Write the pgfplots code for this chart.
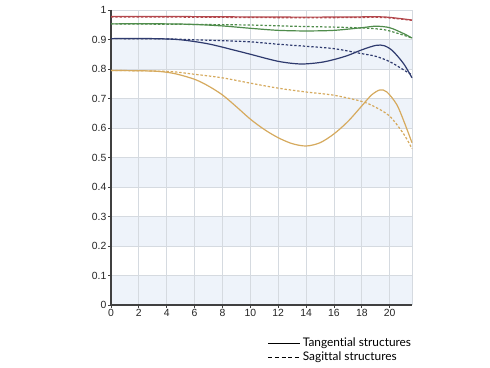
\documentclass[border=0pt]{standalone}
\usepackage{pgfplots}
\pgfplotsset{compat=1.18}
\usepackage{fontspec}
\setmainfont{Liberation Sans}
\newfontfamily\legfont{Lato}[Ligatures=NoCommon]
\definecolor{band}{HTML}{EEF3FA}
\definecolor{gridc}{HTML}{D5DAE0}
\definecolor{cred}{HTML}{B3474C}
\definecolor{cgreen}{HTML}{4F8C4B}
\definecolor{cblue}{HTML}{2E3A6E}
\definecolor{corange}{HTML}{D6AA5E}
\begin{document}
\begin{tikzpicture}
\path[fill=white] (0,0) rectangle (367.5pt,276pt);
\begin{axis}[
  at={(83.25pt,47.25pt)}, anchor=south west,
  scale only axis, width=225.75pt, height=221.25pt,
  xmin=0, xmax=21.6, ymin=0, ymax=1,
  xtick={0,2,...,20}, ytick={0,0.1,...,1.0},
  yticklabels={0,0.1,0.2,0.3,0.4,0.5,0.6,0.7,0.8,0.9,1},
  axis line style={draw=none},
  tick style={draw=none},
  tick label style={font=\fontsize{7.8}{9}\selectfont, text=black!85},
  /pgf/number format/assume math mode=true,
  clip=false,
  legend style={at={(0.52,-0.104)}, anchor=north west, draw=none, fill=none,
    font=\legfont\fontsize{8.9}{10.5}\selectfont, row sep=-0.5pt, inner sep=0pt,
    nodes={inner sep=1.5pt}},
  legend image code/.code={\draw[#1] (0pt,0pt) -- (24pt,0pt);},
  legend cell align=left,
]
\pgfplotsinvokeforeach{0,0.2,0.4,0.6,0.8}{
  \fill[band] (axis cs:0,#1) rectangle (axis cs:21.6,#1+0.1);
}
\pgfplotsinvokeforeach{0.1,0.2,...,1.0}{
  \draw[gridc, line width=0.6pt] (axis cs:0,#1) -- (axis cs:21.6,#1);
}
\pgfplotsinvokeforeach{2,4,...,20}{
  \draw[gridc, line width=0.6pt] (axis cs:#1,0) -- (axis cs:#1,1);
}
\draw[gridc, line width=0.6pt] (axis cs:21.6,0) -- (axis cs:21.6,1);
\draw[black!75, line width=0.8pt] (axis cs:0,1) -- (axis cs:0,0) -- (axis cs:21.6,0);
\pgfplotsinvokeforeach{0,2,...,20}{
  \draw[black!75, line width=0.6pt] (axis cs:#1,0) -- ++(0pt,-2.2pt);
}
\pgfplotsinvokeforeach{0,0.1,...,1.0}{
  \draw[black!75, line width=0.6pt] (axis cs:0,#1) -- ++(-2.2pt,0pt);
}
\addlegendimage{black, line width=0.8pt}
\addlegendentry{Tangential structures}
\addlegendimage{black, line width=0.8pt, dash pattern=on 3pt off 2pt}
\addlegendentry{Sagittal structures}
% red
\addplot[cred, line width=0.9pt, smooth, forget plot] coordinates {(0,0.978)(4,0.978)(8,0.977)(12,0.976)(16,0.976)(19,0.977)(20,0.975)(21.6,0.966)};
\addplot[cred, line width=0.9pt, smooth, forget plot, dash pattern=on 1.8pt off 1.4pt] coordinates {(0,0.976)(4,0.976)(8,0.975)(12,0.974)(16,0.974)(19,0.975)(20,0.973)(21.6,0.965)};
% green
\addplot[cgreen, line width=0.9pt, smooth, forget plot] coordinates {(0,0.953)(4,0.953)(6,0.951)(8,0.946)(10,0.938)(12,0.931)(14,0.929)(16,0.931)(18,0.940)(19,0.945)(20,0.940)(21,0.920)(21.6,0.905)};
\addplot[cgreen, line width=0.9pt, smooth, forget plot, dash pattern=on 1.8pt off 1.4pt] coordinates {(0,0.953)(6,0.951)(10,0.949)(13,0.945)(16,0.942)(18,0.939)(19.5,0.934)(20.5,0.922)(21.6,0.905)};
% blue
\addplot[cblue, line width=0.9pt, smooth, forget plot] coordinates {(0,0.903)(3,0.903)(5,0.899)(7,0.885)(9,0.862)(10,0.850)(12,0.826)(13.6,0.817)(15,0.822)(16,0.832)(17,0.846)(18,0.865)(19,0.880)(19.6,0.879)(20.2,0.862)(21,0.818)(21.6,0.77)};
\addplot[cblue, line width=0.9pt, smooth, forget plot, dash pattern=on 1.8pt off 1.4pt] coordinates {(0,0.903)(4,0.902)(6,0.899)(8,0.896)(10,0.892)(12,0.884)(14,0.877)(16,0.869)(18,0.852)(19,0.843)(20,0.825)(21,0.797)(21.6,0.78)};
% orange
\addplot[corange, line width=0.9pt, smooth, forget plot] coordinates {(0,0.795)(3,0.793)(4.5,0.785)(6,0.765)(7,0.742)(8,0.712)(9,0.672)(10,0.630)(11,0.595)(12,0.567)(13,0.547)(14,0.539)(15,0.550)(16,0.580)(17,0.622)(18,0.675)(18.7,0.712)(19.3,0.729)(19.8,0.722)(20.5,0.680)(21,0.625)(21.6,0.55)};
\addplot[corange, line width=0.9pt, smooth, forget plot, dash pattern=on 1.8pt off 1.4pt] coordinates {(0,0.795)(4,0.792)(6,0.782)(8,0.770)(10,0.752)(12,0.735)(14,0.722)(16,0.711)(18,0.690)(19,0.670)(20,0.640)(21,0.580)(21.6,0.53)};
\end{axis}
\end{tikzpicture}
\end{document}
